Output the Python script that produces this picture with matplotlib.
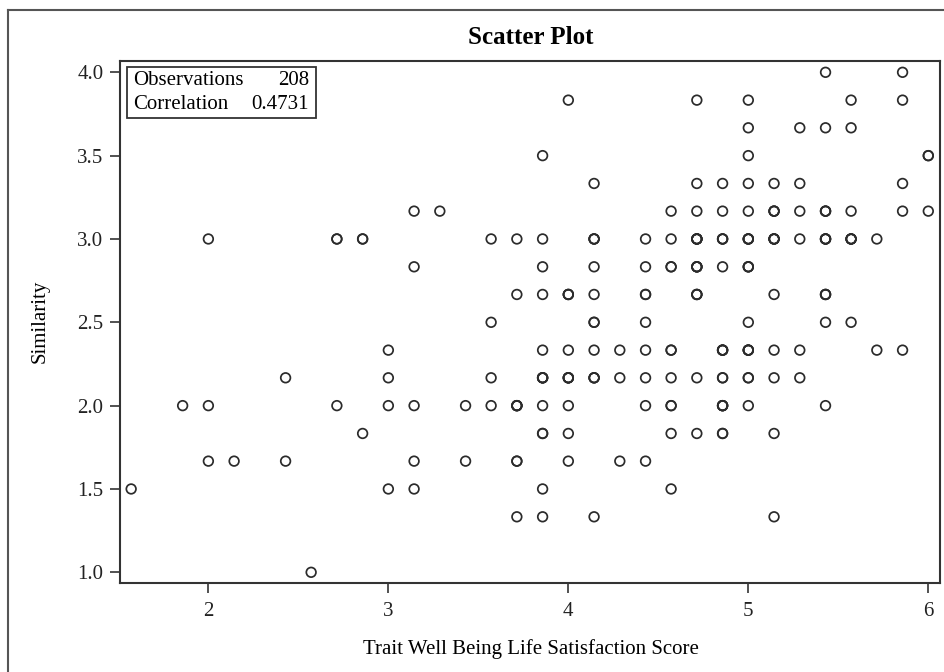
import numpy as np
import matplotlib
matplotlib.use('Agg')
import matplotlib.pyplot as plt
from matplotlib.patches import Rectangle
from matplotlib.lines import Line2D

# data (x in sevenths, y in sixths), count = overlapping points
score = [
    5.429, 5.857,
    4.0, 4.714, 5.0, 5.571, 5.857,
    5.0, 5.286, 5.429, 5.571,
    3.857, 5.0, 6.0,
    4.143, 4.714, 4.857, 5.0, 5.143, 5.286, 5.857,
    3.143, 3.286, 4.571, 4.714, 4.857, 5.0, 5.143, 5.286, 5.429, 5.571, 5.857, 6.0,
    2.0, 2.714, 2.857, 3.571, 3.714, 3.857, 4.143, 4.429, 4.571, 4.714, 4.857, 5.0, 5.143, 5.286, 5.429, 5.571, 5.714,
    3.143, 3.857, 4.143, 4.429, 4.571, 4.714, 4.857, 5.0,
    3.714, 3.857, 4.0, 4.143, 4.429, 4.714, 5.143, 5.429,
    3.571, 4.143, 4.429, 5.0, 5.429, 5.571,
    3.0, 3.857, 4.0, 4.143, 4.286, 4.429, 4.571, 4.857, 5.0, 5.143, 5.286, 5.714, 5.857,
    2.429, 3.0, 3.571, 3.857, 4.0, 4.143, 4.286, 4.429, 4.571, 4.714, 4.857, 5.0, 5.143, 5.286,
    1.857, 2.0, 2.714, 3.0, 3.143, 3.429, 3.571, 3.714, 3.857, 4.0, 4.429, 4.571, 4.857, 5.0, 5.429,
    2.857, 3.857, 4.0, 4.571, 4.714, 4.857, 5.143,
    2.0, 2.143, 2.429, 3.143, 3.429, 3.714, 4.0, 4.286, 4.429,
    1.571, 3.0, 3.143, 3.857, 4.571,
    3.714, 3.857, 4.143, 5.143,
    2.571,
]
similarity = (
    [4.0] * 2 + [3.833] * 5 + [3.667] * 4 + [3.5] * 3 + [3.333] * 7
    + [3.167] * 12 + [3.0] * 17 + [2.833] * 8 + [2.667] * 8 + [2.5] * 6
    + [2.333] * 13 + [2.167] * 14 + [2.0] * 15 + [1.833] * 7 + [1.667] * 9
    + [1.5] * 5 + [1.333] * 4 + [1.0] * 1
)
count = [
    1, 1,
    1, 1, 1, 1, 1,
    1, 1, 1, 1,
    1, 1, 2,
    1, 1, 1, 1, 1, 1, 1,
    1, 1, 1, 1, 1, 1, 3, 1, 3, 1, 1, 1,
    1, 2, 2, 1, 1, 1, 3, 1, 1, 5, 3, 4, 4, 1, 4, 4, 1,
    1, 1, 1, 1, 2, 4, 1, 3,
    1, 1, 3, 1, 2, 3, 1, 3,
    1, 2, 1, 1, 1, 1,
    1, 1, 1, 1, 1, 1, 2, 4, 4, 1, 1, 1, 1,
    1, 1, 1, 4, 4, 3, 1, 1, 1, 1, 2, 2, 1, 1,
    1, 1, 1, 1, 1, 1, 1, 4, 1, 1, 1, 2, 4, 1, 1,
    1, 2, 1, 1, 1, 2, 1,
    1, 1, 1, 1, 1, 2, 1, 1, 1,
    1, 1, 1, 1, 1,
    1, 1, 1, 1,
    1,
]

x_ticks = [2, 3, 4, 5, 6]
y_ticks = [1.0, 1.5, 2.0, 2.5, 3.0, 3.5, 4.0]
n_obs = 208
corr = 0.4731

x = np.repeat(score, count)
y = np.repeat(similarity, count)

plt.rcParams['font.family'] = ['Liberation Serif', 'DejaVu Serif']
fs = 15

W, H = 945, 672
fig = plt.figure(figsize=(W / 100, H / 100), dpi=100)
ax = fig.add_axes([120 / W, 1 - 582.7 / H, 820 / W, 522 / H])

ax.scatter(x, y, s=48, facecolors='none', edgecolors='#2b2b2b', linewidths=1.25)

ax.set_xlim(1.509, 6.065)
ax.set_ylim(0.9376, 4.0696)
ax.set_xticks(x_ticks)
ax.set_xticklabels([str(t) for t in x_ticks])
ax.set_yticks(y_ticks)
ax.set_yticklabels([f'{t:.1f}' for t in y_ticks])
ax.tick_params(axis='both', labelsize=fs, length=7, width=1.2, color='#333333', labelcolor='#222222')
ax.tick_params(axis='x', pad=7)
ax.tick_params(axis='y', pad=5)
for sp in ax.spines.values():
    sp.set_linewidth(1.5)
    sp.set_color('#333333')

# stats box
ax.add_patch(Rectangle((0.0089, 0.890), 0.230, 0.097, transform=ax.transAxes,
                       fill=False, edgecolor='#333333', linewidth=1.3, zorder=5))
ax.text(0.0159, 0.962, 'Observations', transform=ax.transAxes, fontsize=fs, va='center', ha='left')
ax.text(0.2305, 0.962, str(n_obs), transform=ax.transAxes, fontsize=fs, va='center', ha='right')
ax.text(0.0159, 0.917, 'Correlation', transform=ax.transAxes, fontsize=fs, va='center', ha='left')
ax.text(0.2305, 0.917, f'{corr:.4f}', transform=ax.transAxes, fontsize=fs, va='center', ha='right')

fig.text(531 / W, 1 - 37 / H, 'Scatter Plot', fontsize=18, fontweight='bold', ha='center', va='center')
fig.text(531 / W, 1 - 649 / H, 'Trait Well Being Life Satisfaction Score', fontsize=fs, ha='center', va='center')
fig.text(40 / W, 1 - 321 / H, 'Similarity', fontsize=fs, rotation=90, ha='center', va='center')

# outer frame (top and left edges visible)
fig.add_artist(Line2D([8 / W, 8 / W], [0, 1 - 10 / H], transform=fig.transFigure, color='#555555', linewidth=1.5))
fig.add_artist(Line2D([8 / W, 1], [1 - 10 / H, 1 - 10 / H], transform=fig.transFigure, color='#555555', linewidth=1.5))

fig.savefig('out.png', dpi=100)
